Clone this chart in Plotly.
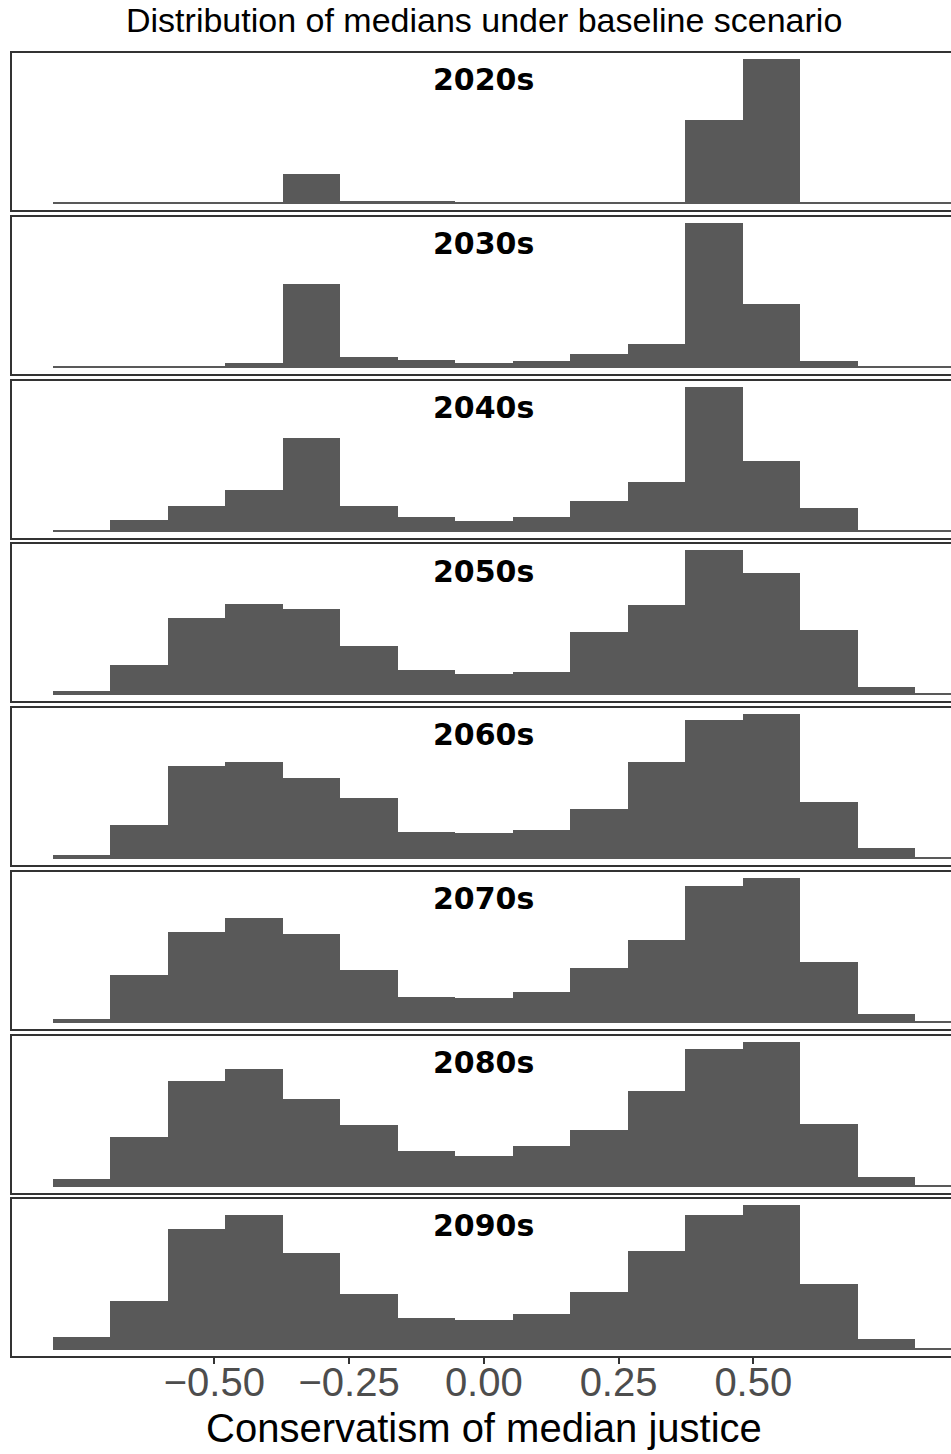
import numpy as np
import plotly.graph_objects as go

# Histogram bins of the median justice's conservatism score
bin_start = -0.8
bin_width = 1.6 / 15
n_bins = 16
bin_centers = [bin_start + bin_width * (k + 0.5) for k in range(n_bins)]

decades = ["2020s", "2030s", "2040s", "2050s", "2060s", "2070s", "2080s", "2090s"]

# Counts of simulated medians per bin, one list per decade
counts_2020s = [1, 1, 1, 1, 30, 3, 3, 1, 1, 1, 1, 85, 146, 2, 1, 1]
counts_2030s = [1, 1, 2, 5, 85, 11, 8, 5, 7, 14, 24, 146, 64, 7, 1, 1]
counts_2040s = [1, 12, 26, 42, 95, 26, 15, 11, 15, 31, 50, 146, 71, 24, 1, 1]
counts_2050s = [4, 30, 77, 91, 86, 49, 25, 21, 23, 63, 90, 145, 122, 65, 8, 1]
counts_2060s = [4, 34, 93, 97, 81, 61, 27, 26, 29, 50, 97, 139, 145, 57, 11, 1]
counts_2070s = [4, 48, 92, 106, 90, 53, 26, 25, 31, 55, 84, 138, 146, 61, 9, 1]
counts_2080s = [8, 50, 106, 118, 88, 62, 36, 31, 41, 57, 96, 138, 145, 63, 10, 1]
counts_2090s = [13, 49, 121, 135, 97, 56, 32, 30, 36, 58, 99, 135, 145, 66, 11, 1]

all_counts = [counts_2020s, counts_2030s, counts_2040s, counts_2050s,
              counts_2060s, counts_2070s, counts_2080s, counts_2090s]

tick_values = [-0.5, -0.25, 0.0, 0.25, 0.5]
tick_labels = ["\u22120.50", "\u22120.25", "0.00", "0.25", "0.50"]

W, H = 951, 1454
panel_top0 = 52.3       # centre of each panel's top border line
panel_pitch = 163.7
panel_h = 159.0         # border-centre to border-centre
line_w = 2
half = line_w / 2
x_zero_px = 483.8
px_per_unit = 539.0
x_left_px = 11.0
x_lo = (x_left_px + half - x_zero_px) / px_per_unit
x_hi = (W - x_zero_px) / px_per_unit

BAR = "#595959"
LINE = "#333333"

fig = go.Figure()
annotations = []

for i, (label, counts) in enumerate(zip(decades, all_counts)):
    n = i + 1
    top = panel_top0 + i * panel_pitch
    bot = top + panel_h
    # plotly draws axis lines just outside the domain, so inset by half a line
    dom = [1 - (bot - half) / H, 1 - (top + half) / H]
    xa = "x" if n == 1 else f"x{n}"
    ya = "y" if n == 1 else f"y{n}"

    fig.add_trace(go.Bar(
        x=bin_centers, y=counts, width=bin_width,
        marker=dict(color=BAR, line=dict(width=0)),
        xaxis=xa, yaxis=ya, showlegend=False, hoverinfo="skip",
    ))

    m = max(counts)
    y_per_px = 1.1 * m / panel_h
    y_lo = -0.05 * m + half * y_per_px
    y_hi = 1.05 * m - half * y_per_px
    last = (n == len(decades))
    fig.layout[f"xaxis{'' if n == 1 else n}"] = dict(
        domain=[(x_left_px + half) / W, 1], range=[x_lo, x_hi], anchor=ya,
        showline=True, mirror=True, linecolor=LINE, linewidth=line_w,
        showgrid=False, zeroline=False,
        tickvals=tick_values, ticktext=tick_labels,
        showticklabels=last, ticks="outside" if last else "",
        ticklen=6, tickwidth=1.5, tickcolor=LINE,
        ticklabelstandoff=-16,
        tickfont=dict(family="Liberation Sans, Arial", size=40, color="#4D4D4D"),
        automargin=False, fixedrange=True,
    )
    fig.layout[f"yaxis{'' if n == 1 else n}"] = dict(
        domain=dom, range=[y_lo, y_hi], anchor=xa,
        showline=True, mirror=False, linecolor=LINE, linewidth=line_w,
        showgrid=False, zeroline=False, showticklabels=False, ticks="",
        automargin=False, fixedrange=True,
    )
    annotations.append(dict(
        text=label, x=0, xref=xa, y=0.83, yref=f"{ya} domain",
        showarrow=False, xanchor="center", yanchor="middle",
        font=dict(family="DejaVu Sans", size=30, color="black", weight="bold"),
    ))

annotations.append(dict(
    text="Distribution of medians under baseline scenario",
    x=484 / W, y=1 - 20 / H, xref="paper", yref="paper",
    showarrow=False, xanchor="center", yanchor="middle",
    font=dict(family="Liberation Sans, Arial", size=34, color="black"),
))
annotations.append(dict(
    text="Conservatism of median justice",
    x=484 / W, y=1 - 1428 / H, xref="paper", yref="paper",
    showarrow=False, xanchor="center", yanchor="middle",
    font=dict(family="Liberation Sans, Arial", size=40, color="black"),
))

fig.update_layout(
    width=W, height=H,
    margin=dict(l=0, r=0, t=0, b=0),
    paper_bgcolor="white", plot_bgcolor="white",
    bargap=0, annotations=annotations,
)

fig.write_html("out.html", config={"displayModeBar": False})
